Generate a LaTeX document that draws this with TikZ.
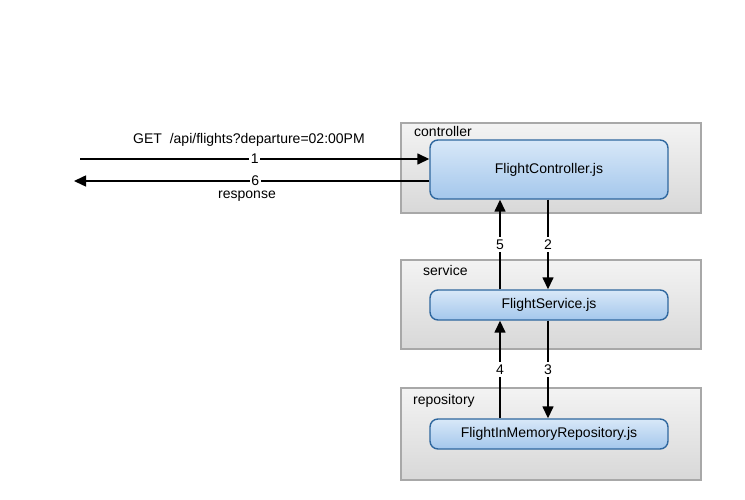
\documentclass[tikz,border=0pt]{standalone}
\usepackage{fontspec}
\setmainfont{Liberation Sans}
\usetikzlibrary{arrows.meta,calc}
\definecolor{grpTop}{HTML}{F3F3F3}
\definecolor{grpBot}{HTML}{D8D8D8}
\definecolor{grpLine}{HTML}{A8A8A8}
\definecolor{boxTop}{HTML}{D8E8F8}
\definecolor{boxBot}{HTML}{A4C7EC}
\definecolor{boxLine}{HTML}{2F679E}
\tikzset{
  grp/.style={draw=grpLine, line width=1.2pt, top color=grpTop, bottom color=grpBot, shading=axis, inner sep=0pt},
  comp/.style={draw=boxLine, line width=1.4pt, top color=boxTop, bottom color=boxBot, shading=axis, rounded corners=8pt, inner sep=0pt, font=\fontsize{14}{16}\selectfont},
  grplabel/.style={anchor=base west, inner sep=0pt, font=\fontsize{14}{16}\selectfont},
  txt/.style={inner sep=0pt, font=\fontsize{14}{16}\selectfont},
  num/.style={fill=white, inner xsep=1.5pt, inner ysep=0pt, font=\fontsize{14}{14}\selectfont},
  vnum/.style={fill=white, inner xsep=1pt, inner ysep=3pt, font=\fontsize{14}{14}\selectfont},
  arr/.style={line width=1.5pt, -{Triangle[length=12pt,width=11pt]}},
}
\begin{document}
\begin{tikzpicture}[x=1pt,y=-1pt]
\useasboundingbox (0,0) rectangle (745,500);
% groups
\node[grp, minimum width=300pt, minimum height=90pt] (cg) at (551,168) {};
\node[grp, minimum width=300pt, minimum height=89pt] (sg) at (551,304.5) {};
\node[grp, minimum width=300pt, minimum height=92pt] (rg) at (551,434) {};
\node[grplabel] (cgl) at (414,137) {controller};
\node[grplabel] (sgl) at (423,275) {service};
\node[grplabel] (rgl) at (413,404) {repository};
% components
\node[comp, minimum width=238pt, minimum height=59pt] (fc) at (549,169.5) {FlightController.js};
\node[comp, minimum width=238pt, minimum height=30pt] (fs) at (549,305) {FlightService.js};
\node[comp, minimum width=238pt, minimum height=30pt] (fr) at (549,434) {FlightInMemoryRepository.js};
% coordinates
\coordinate (in1) at (80,159);
\coordinate (out6) at (74,181);
\coordinate (xl) at (500,0);
\coordinate (xr) at (548,0);
% request / response
\draw[arr] (in1) -- (fc.west |- in1) node[num, pos=0.5] (n1) {1};
\node[txt] (get) at (249,140) {GET\ \ /api/flights?departure=02:00PM};
\draw[arr] (fc.west |- out6) -- (out6) node[num, pos=0.49] (n6) {6};
\node[txt] (resp) at (247,196) {response};
% vertical arrows
\draw[arr] (fc.south -| xr) -- (fs.north -| xr) node[vnum, pos=0.5] (n2) {2};
\draw[arr] (fs.north -| xl) -- (fc.south -| xl) node[vnum, pos=0.5] (n5) {5};
\draw[arr] (fs.south -| xr) -- (fr.north -| xr) node[vnum, pos=0.5] (n3) {3};
\draw[arr] (fr.north -| xl) -- (fs.south -| xl) node[vnum, pos=0.5] (n4) {4};
\end{tikzpicture}
\end{document}
